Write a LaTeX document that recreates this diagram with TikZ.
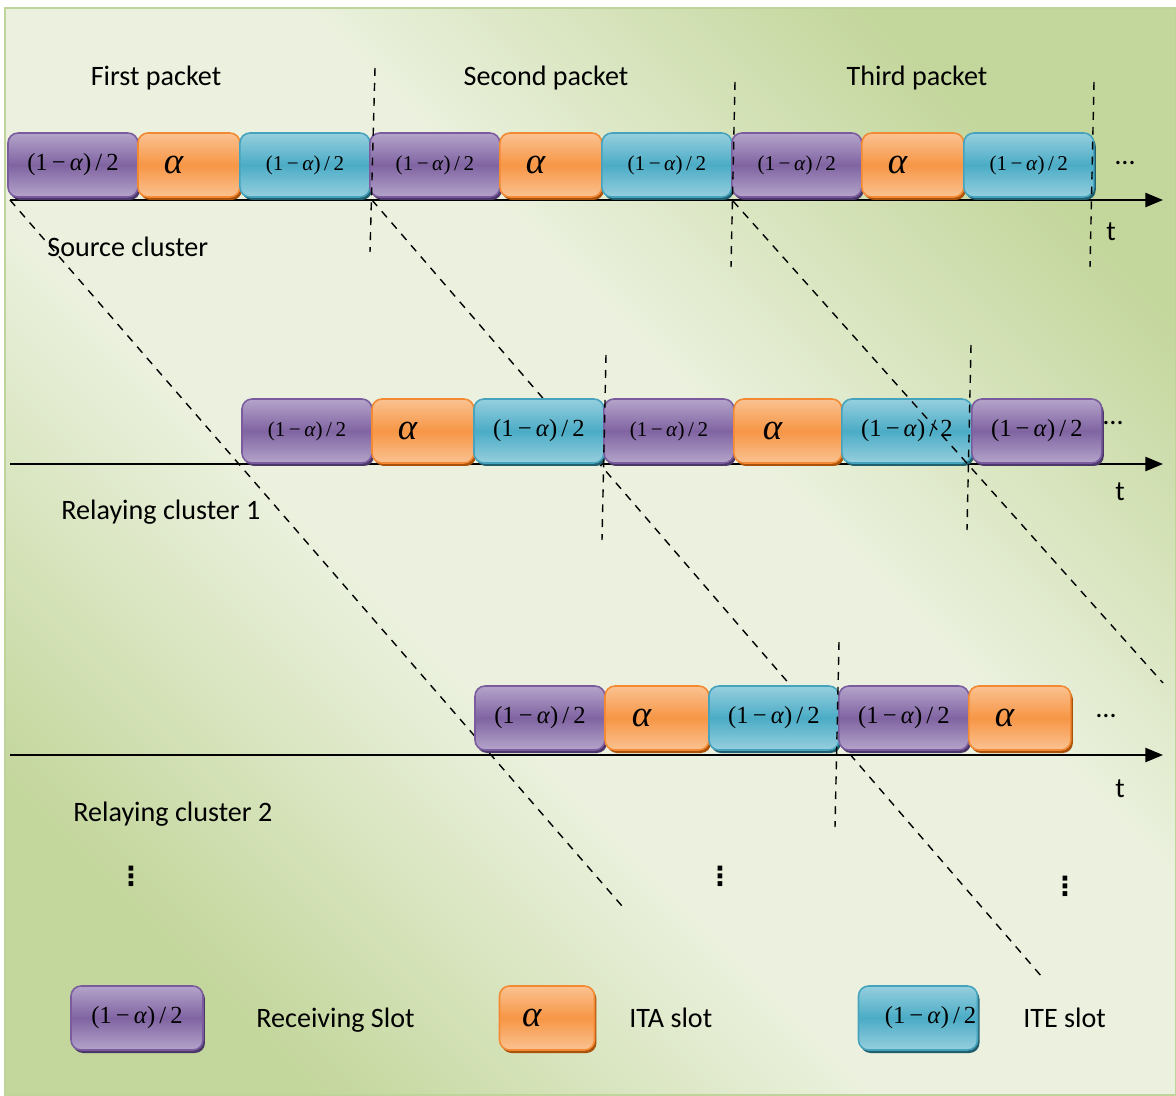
\documentclass[tikz,border=0pt]{standalone}
\usepackage{fontspec}
\setmainfont{Carlito}
\newfontfamily\tnr{Liberation Serif}
\newfontfamily\dejavu{DejaVu Sans}
\usetikzlibrary{positioning,arrows.meta,shadows}

\definecolor{recvmid}{HTML}{8064A2}
\definecolor{recvlight}{HTML}{B4A4CA}
\definecolor{recvedge}{HTML}{7A5C9E}
\definecolor{recvdark}{HTML}{4B3768}
\definecolor{itamid}{HTML}{F79646}
\definecolor{italight}{HTML}{FAC291}
\definecolor{itaedge}{HTML}{F38A33}
\definecolor{itadark}{HTML}{A9520C}
\definecolor{itemid}{HTML}{4BACC6}
\definecolor{itelight}{HTML}{96CFDE}
\definecolor{iteedge}{HTML}{45A3BE}
\definecolor{itedark}{HTML}{215E6E}
\definecolor{bggreen}{HTML}{C3D69B}
\definecolor{bglight}{HTML}{EBF1DE}
\definecolor{bgedge}{HTML}{BFD49A}

\pgfdeclarehorizontalshading{backdrop}{100bp}{color(0bp)=(bggreen); color(24bp)=(bggreen); color(42bp)=(bglight); color(58bp)=(bglight); color(76bp)=(bggreen); color(100bp)=(bggreen)}

\newcommand{\share}{(1\,−\,\textit{α})\,/\,2}

\begin{document}
\begin{tikzpicture}[x=0.02cm, y=-0.02cm,
  txt/.style={font=\fontsize{16}{18}\selectfont, inner sep=0pt},
  slot/.style={rounded corners=0.2cm, inner sep=0pt, outer sep=0pt, minimum height=1.28cm, line width=0.9pt},
  lbl/.style={font=\tnr\fontsize{12}{14}\selectfont},
  big/.style={font=\tnr\fontsize{14}{16}\selectfont},
  recv/.style={slot, minimum width=2.6cm, draw=recvedge,
    top color=recvlight, bottom color=recvlight, middle color=recvmid,
    drop shadow={shadow xshift=0.04cm, shadow yshift=-0.06cm, fill=recvdark, opacity=1}},
  ita/.style={slot, minimum width=2.04cm, draw=itaedge, text width=1cm, align=left,
    font=\tnr\fontsize{21}{22}\selectfont\itshape,
    top color=italight, bottom color=italight, middle color=itamid,
    drop shadow={shadow xshift=0.04cm, shadow yshift=-0.06cm, fill=itadark, opacity=1}},
  ite/.style={slot, minimum width=2.6cm, draw=iteedge,
    top color=itelight, bottom color=itelight, middle color=itemid,
    drop shadow={shadow xshift=0.04cm, shadow yshift=-0.06cm, fill=itedark, opacity=1}},
  axis/.style={line width=1.1pt, -{Triangle[length=10pt,width=8pt]}},
  divider/.style={line width=0.8pt, dash pattern=on 4.5pt off 4pt},
  relay/.style={line width=0.8pt, dash pattern=on 4.5pt off 4pt}]

  \useasboundingbox (0,0) rectangle (1176,1095);
  \fill[white] (0,0) rectangle (1176,1095);
  \shade[shading=backdrop, shading angle=45, draw=bgedge, line width=1.2pt]
    (5,8) rectangle (1176,1095);

  % time axes
  \coordinate (s0) at (10,200);
  \coordinate (r0) at (10,464);
  \coordinate (q0) at (10,755);
  \draw[axis] (s0) -- (1163,200);
  \draw[axis] (r0) -- (1163,464);
  \draw[axis] (q0) -- (1163,755);

  % packet forwarding, behind the slots
  \coordinate (p1) at (10,200);
  \coordinate (p2) at (372,200);
  \draw[relay] (p1) -- (622,906);
  \draw[relay] (p2) -- (1042,977);

  % source cluster
  \node[recv, big, anchor=west] (s1) at (8,165) {\share};
  \node[ita, right=0pt of s1] (s2) {α};
  \node[ite, lbl, right=0pt of s2] (s3) {\share};
  \node[recv, lbl, right=0pt of s3] (s4) {\share};
  \node[ita, right=0pt of s4] (s5) {α};
  \node[ite, lbl, right=0pt of s5] (s6) {\share};
  \node[recv, lbl, right=0pt of s6] (s7) {\share};
  \node[ita, right=0pt of s7] (s8) {α};
  \node[ite, lbl, right=0pt of s8] (s9) {\share};

  % relaying cluster 1
  \node[recv, lbl, anchor=west] (r1) at (242,431) {\share};
  \node[ita, right=0pt of r1] (r2) {α};
  \node[ite, big, right=0pt of r2] (r3) {\share};
  \node[recv, lbl, right=0pt of r3] (r4) {\share};
  \node[ita, minimum width=2.16cm, right=0pt of r4] (r5) {α};
  \node[ite, big, right=0pt of r5] (r6) {\share};
  \node[recv, big, right=0pt of r6] (r7) {\share};

  % relaying cluster 2
  \node[recv, big, anchor=west] (q1) at (475,718) {\share};
  \node[ita, minimum width=2.08cm, right=0pt of q1] (q2) {α};
  \node[ite, big, right=0pt of q2] (q3) {\share};
  \node[recv, big, right=0pt of q3] (q4) {\share};
  \node[ita, right=0pt of q4] (q5) {α};

  % packet boundaries
  \draw[divider] (375,68) -- (370,252);
  \draw[divider] (735,82) -- (731,267);
  \draw[divider] (1094,82) -- (1090,267);
  \draw[divider] (606,355) -- (602,540);
  \draw[divider] (971,345) -- (967,530);
  \draw[divider] (839,642) -- (835,827);
  \coordinate (p3) at (733,201);
  \draw[relay] (p3) -- (1163,683);

  % labels
  \node[txt] (first) at (156,78) {First packet};
  \node[txt] (second) at (546,78) {Second packet};
  \node[txt] (third) at (917,78) {Third packet};
  \node[txt, anchor=west] (src) at (47,247) {Source cluster};
  \node[txt, anchor=west] (rc1) at (61,512) {Relaying cluster 1};
  \node[txt, anchor=west] (rc2) at (73,814) {Relaying cluster 2};
  \node[txt] (t1) at (1111,232) {t};
  \node[txt] (t2) at (1120,492) {t};
  \node[txt] (t3) at (1120,789) {t};
  \node[txt] (more1) at (1125,163) {…};
  \node[txt] (more2) at (1113,423) {…};
  \node[txt] (more3) at (1106,716) {…};
  \node[font=\dejavu\bfseries\fontsize{15}{16}\selectfont] (v1) at (131,876) {⋮};
  \node[font=\dejavu\bfseries\fontsize{15}{16}\selectfont] (v2) at (720,876) {⋮};
  \node[font=\dejavu\bfseries\fontsize{15}{16}\selectfont] (v3) at (1065,886) {⋮};

  % legend
  \node[recv, big, minimum width=2.64cm] (lrecv) at (137,1018) {\share};
  \node[txt, anchor=west] (lrecvtxt) at (256,1020) {Receiving Slot};
  \node[ita, minimum width=1.9cm] (lita) at (547,1018) {α};
  \node[txt, anchor=west] (litatxt) at (629,1018) {ITA slot};
  \node[ite, minimum width=2.38cm] (lite) at (918,1018) {};
  \begin{scope}
    \clip (lite.south west) rectangle ([xshift=-0.06cm]lite.north east);
    \node[big, inner sep=0pt, anchor=west] at ([xshift=0.52cm]lite.west) {\share};
  \end{scope}
  \node[txt, anchor=west] (litetxt) at (1023,1018) {ITE slot};
\end{tikzpicture}
\end{document}
